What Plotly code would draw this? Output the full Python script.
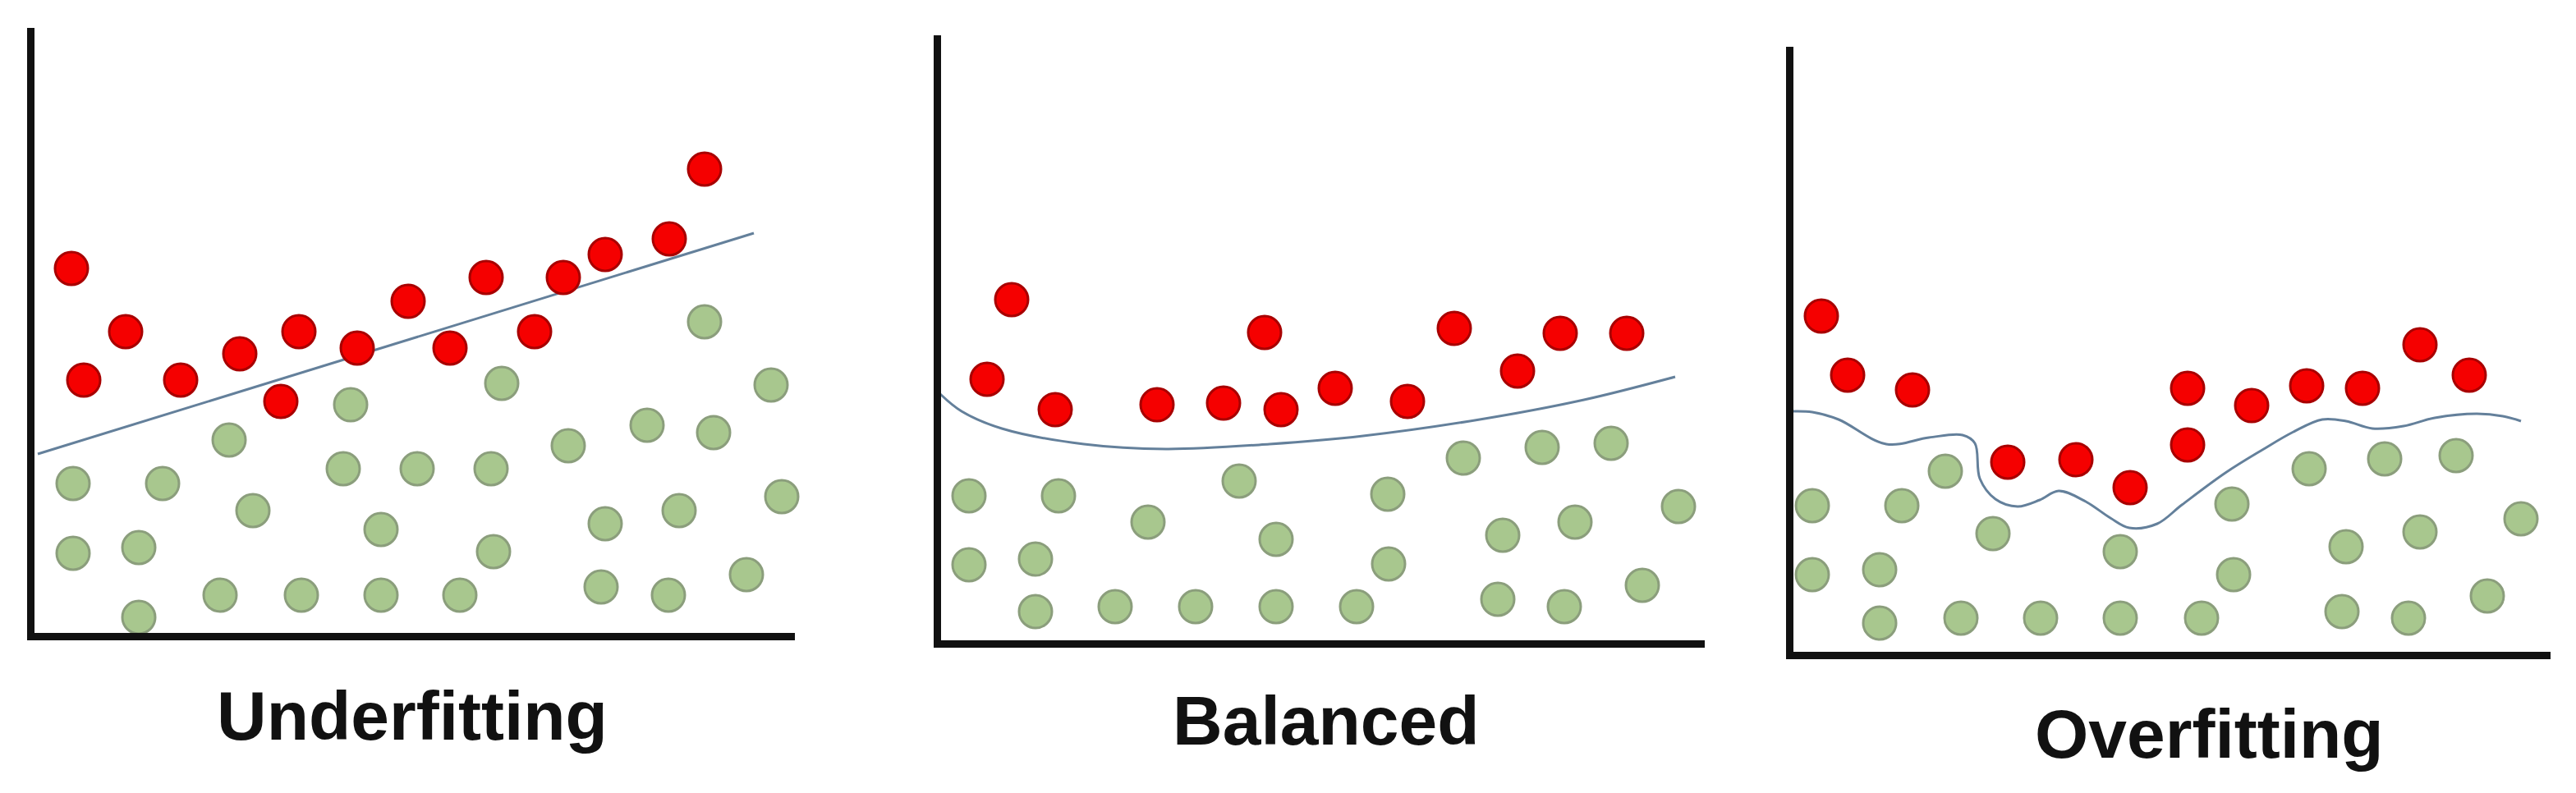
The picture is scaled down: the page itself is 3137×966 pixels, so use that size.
import plotly.graph_objects as go

W, H = 3137, 966

# panel titles
titles = ["Underfitting", "Balanced", "Overfitting"]

# --- Underfitting ---
under_red_x = [50, 65, 116, 183, 255, 305, 327, 398, 460, 511, 555, 614, 649, 700, 778, 821]
under_red_y = [448, 312, 371, 312, 344, 286, 371, 351, 408, 351, 437, 371, 437, 465, 484, 569]
under_green_x = [821, 574, 902, 390, 242, 751, 832, 655, 52, 161, 381, 471, 561, 915, 271,
                 790, 427, 700, 52, 132, 564, 872, 231, 330, 427, 523, 695, 777, 132]
under_green_y = [383, 308, 306, 282, 239, 257, 248, 232, 186, 186, 204, 204, 204, 170, 153,
                 153, 130, 137, 101, 108, 103, 75, 50, 50, 50, 50, 60, 50, 23]
under_fit_x = [9, 881]
under_fit_y = [222, 491]

# --- Balanced ---
bal_red_x = [91, 61, 144, 268, 349, 399, 419, 485, 573, 630, 707, 759, 840]
bal_red_y = [419, 322, 285, 291, 293, 379, 285, 311, 295, 384, 332, 378, 378]
bal_green_x = [39, 148, 368, 549, 641, 737, 821, 257, 413, 689, 777, 903, 39, 120, 550,
               859, 120, 217, 315, 413, 511, 683, 764]
bal_green_y = [180, 180, 198, 182, 226, 239, 244, 148, 127, 132, 148, 167, 96, 103, 97,
               71, 39, 45, 45, 45, 45, 54, 45]
bal_fit_x = [4, 30, 79, 179, 279, 405, 519, 661, 788, 899]
bal_fit_y = [304, 283, 262, 243, 237, 243, 253, 273, 297, 325]

# --- Overfitting ---
over_red_x = [39, 71, 150, 266, 349, 415, 485, 485, 563, 630, 698, 768, 828]
over_red_y = [413, 341, 323, 235, 238, 204, 325, 256, 304, 328, 325, 378, 341]
over_green_x = [28, 137, 190, 248, 403, 539, 633, 725, 812, 891, 768, 678, 28, 110, 541,
                850, 110, 209, 306, 403, 502, 673, 754]
over_green_y = [182, 182, 224, 148, 126, 184, 227, 239, 243, 166, 150, 132, 98, 104, 98,
                72, 39, 45, 45, 45, 45, 53, 45]
over_fit_x = [4, 28, 60, 118, 170, 211, 226, 232, 251, 278, 305, 328, 361, 391, 414, 448,
              478, 531, 576, 614, 649, 678, 710, 748, 786, 837, 869, 891]
over_fit_y = [297, 296, 287, 257, 265, 268, 258, 215, 190, 181, 189, 200, 187, 167, 155, 160,
              183, 222, 250, 272, 287, 285, 276, 279, 289, 294, 291, 285]

panels = [
    (under_red_x, under_red_y, under_green_x, under_green_y, under_fit_x, under_fit_y, "linear"),
    (bal_red_x, bal_red_y, bal_green_x, bal_green_y, bal_fit_x, bal_fit_y, "spline"),
    (over_red_x, over_red_y, over_green_x, over_green_y, over_fit_x, over_fit_y, "spline"),
]

# axis box in page pixels: y-axis line x, x-axis line y, right end, top end
boxes = [(37, 775, 968, 34), (1141, 784, 2076, 43), (2179, 798, 3106, 57)]
title_pos = [(502, 872), (1615, 878), (2690, 894)]
LW = 9

fig = go.Figure()
layout = {}
for i, (rx, ry, gx, gy, fx, fy, shape) in enumerate(panels):
    n = "" if i == 0 else str(i + 1)
    xa, ya = "x" + n, "y" + n
    fig.add_trace(go.Scatter(x=gx, y=gy, mode="markers", xaxis=xa, yaxis=ya, cliponaxis=False,
                             marker=dict(size=40, color="#a8c78e",
                                         line=dict(color="#8b9e7c", width=3))))
    fig.add_trace(go.Scatter(x=fx, y=fy, mode="lines", xaxis=xa, yaxis=ya, cliponaxis=False,
                             line=dict(color="#64809b", width=3, shape=shape, smoothing=1)))
    fig.add_trace(go.Scatter(x=rx, y=ry, mode="markers", xaxis=xa, yaxis=ya, cliponaxis=False,
                             marker=dict(size=40, color="#f50000",
                                         line=dict(color="#a80000", width=3))))
    ax0, ay0, ax1, ay1 = boxes[i]
    left = ax0 + LW / 2
    bottom = ay0 - LW / 2
    layout["xaxis" + n] = dict(domain=[left / W, ax1 / W], range=[LW / 2, ax1 - ax0],
                               anchor=ya, showline=True, linecolor="#111111", linewidth=LW,
                               showgrid=False, zeroline=False, showticklabels=False, ticks="")
    layout["yaxis" + n] = dict(domain=[(H - bottom) / H, (H - ay1) / H], range=[LW / 2, ay0 - ay1],
                               anchor=xa, showline=True, linecolor="#111111", linewidth=LW,
                               showgrid=False, zeroline=False, showticklabels=False, ticks="")

annotations = []
for t, (tx, ty) in zip(titles, title_pos):
    annotations.append(dict(text="<b>" + t + "</b>", x=tx / W, y=1 - ty / H, xref="paper", yref="paper",
                            xanchor="center", yanchor="middle", showarrow=False,
                            font=dict(family="Liberation Sans, Arial", size=84, color="#111111")))

fig.update_layout(**layout)
fig.update_layout(width=W, height=H, margin=dict(l=0, r=0, t=0, b=0),
                  paper_bgcolor="white", plot_bgcolor="white", showlegend=False,
                  annotations=annotations)
# drop the browser's default body margin so the figure sits at the page origin
fig.write_html("out.html", config={"displayModeBar": False},
               post_script="document.body.style.margin='0';")
